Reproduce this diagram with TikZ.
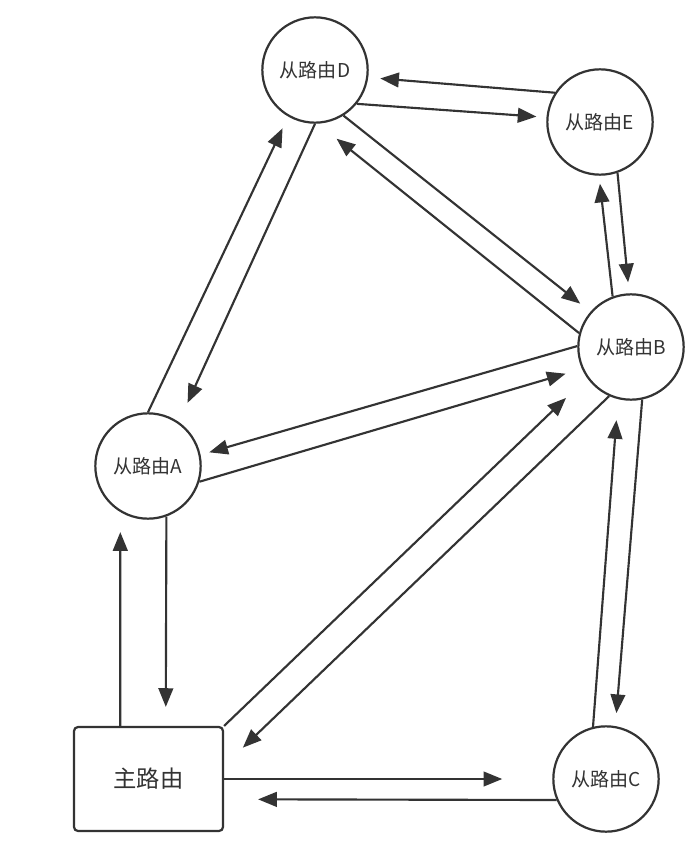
\documentclass[tikz,border=0pt]{standalone}
\usepackage{fontspec}
\newfontfamily\cjk{Noto Sans CJK SC}
\usetikzlibrary{arrows.meta}
\definecolor{ink}{HTML}{333333}
\begin{document}
\begin{tikzpicture}[x=0.75pt,y=-0.75pt,
  router/.style={circle, draw=ink, line width=1.65pt, minimum size=79pt, inner sep=0pt,
    font=\cjk\fontsize{14.3}{17}\selectfont, text=ink},
  mainbox/.style={rectangle, rounded corners=3pt, draw=ink, line width=1.65pt,
    minimum width=111.75pt, minimum height=78pt, inner sep=0pt,
    font=\cjk\fontsize{17.5}{21}\selectfont, text=ink},
  link/.style={draw=ink, line width=1.6pt, -{Triangle[length=14pt,width=11pt]}}
]
\fill[white] (0,0) rectangle (696,853);
\useasboundingbox (0,0) rectangle (696,853);

\node[router] (D) at (315,70) {从路由D};
\node[router] (E) at (600,122) {从路由E};
\node[router] (B) at (631,347) {从路由B};
\node[router] (A) at (148,466) {从路由A};
\node[router] (C) at (606,779) {从路由C};
\node[mainbox] (M) at (148.5,779) {主路由};

% D -- E
\draw[link, shorten >=9pt] (E.147) -- (D.-8);
\draw[link, shorten >=7.5pt] (D.-39) -- (E.175);
% A -- D
\draw[link, shorten >=9.75pt] (A.90) -- (D.-120);
\draw[link, shorten >=15.75pt] (D.-90) -- (A.55);
% D -- B
\draw[link, shorten >=18pt] (B.165) -- (D.-87.5);
\draw[link, shorten >=9.75pt] (D.-58) -- (B.139);
% E -- B
\draw[link, shorten >=6pt] (B.110) -- (E.-91);
\draw[link, shorten >=8.25pt] (E.-71) -- (B.92);
% A -- B
\draw[link, shorten >=6.75pt] (B.179) -- (A.12);
\draw[link, shorten >=12.75pt] (A.-17) -- (B.-156);
% Main -- B
\draw[link, shorten >=21.75pt] (M.north east) -- (B.-145);
\draw[link, shorten >=19.5pt] (B.-114) -- (M.10);
% Main -- A
\draw[link, shorten >=15pt] (M.118) -- (A.-121.5);
\draw[link, shorten >=14.25pt] (A.-70) -- (M.72);
% Main -- C
\draw[link, shorten >=37.5pt] (M.east) -- (C.west);
\draw[link, shorten >=25.5pt] (C.-157) -- (M.-15.5);
% B -- C
\draw[link, shorten >=15.75pt] (C.104) -- (B.-104);
\draw[link, shorten >=9.75pt] (B.-78) -- (C.80);
\end{tikzpicture}
\end{document}
